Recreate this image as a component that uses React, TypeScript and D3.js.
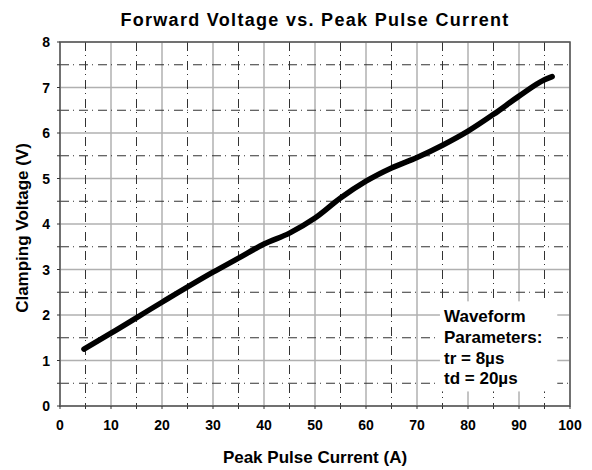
import React, { useEffect, useRef } from "react";
import * as d3 from "d3";

// curve
const current = [4.7, 10, 20, 30, 35, 40, 45, 50, 55, 60, 65, 70, 75, 80, 85, 90, 95, 96.5];
const voltage = [1.25, 1.6, 2.28, 2.94, 3.25, 3.56, 3.8, 4.13, 4.57, 4.94, 5.23, 5.46, 5.73, 6.04, 6.41, 6.81, 7.17, 7.24];

const xTicks = [0, 10, 20, 30, 40, 50, 60, 70, 80, 90, 100];
const yTicks = [0, 1, 2, 3, 4, 5, 6, 7, 8];
const xMinor = [5, 15, 25, 35, 45, 55, 65, 75, 85, 95];
const yMinor = [0.5, 1.5, 2.5, 3.5, 4.5, 5.5, 6.5, 7.5];

const noteLines = ["Waveform", "Parameters:", "tr = 8\u00b5s", "td = 20\u00b5s"];

const width = 592;
const height = 470;
const margin = { top: 42, right: 22, bottom: 64, left: 60 };
const font = "'Liberation Sans', Arial, sans-serif";

export default function App() {
  const svgRef = useRef<SVGSVGElement>(null);

  useEffect(() => {
    const svg = d3.select(svgRef.current);
    svg.selectAll("*").remove();

    const innerW = width - margin.left - margin.right;
    const innerH = height - margin.top - margin.bottom;

    const xScale = d3.scaleLinear().domain([0, 100]).range([0, innerW]);
    const yScale = d3.scaleLinear().domain([0, 8]).range([innerH, 0]);

    const g = svg
      .append("g")
      .attr("transform", `translate(${margin.left},${margin.top})`);

    // major grid (solid grey)
    g.selectAll(".vmajor")
      .data(xTicks)
      .enter()
      .append("line")
      .attr("x1", (d) => xScale(d))
      .attr("x2", (d) => xScale(d))
      .attr("y1", 0)
      .attr("y2", innerH)
      .attr("stroke", "#b0b0b0")
      .attr("stroke-width", 1.5);

    g.selectAll(".hmajor")
      .data(yTicks)
      .enter()
      .append("line")
      .attr("x1", 0)
      .attr("x2", innerW)
      .attr("y1", (d) => yScale(d))
      .attr("y2", (d) => yScale(d))
      .attr("stroke", "#b0b0b0")
      .attr("stroke-width", 1.5);

    // minor grid (dashed dark)
    g.selectAll(".vminor")
      .data(xMinor)
      .enter()
      .append("line")
      .attr("x1", (d) => xScale(d))
      .attr("x2", (d) => xScale(d))
      .attr("y1", 0)
      .attr("y2", innerH)
      .attr("stroke", "#333")
      .attr("stroke-width", 1)
      .attr("stroke-dasharray", "9,4,1,5");

    g.selectAll(".hminor")
      .data(yMinor)
      .enter()
      .append("line")
      .attr("x1", 0)
      .attr("x2", innerW)
      .attr("y1", (d) => yScale(d))
      .attr("y2", (d) => yScale(d))
      .attr("stroke", "#333")
      .attr("stroke-width", 1)
      .attr("stroke-dasharray", "9,4,1,5");

    // white box behind the note
    g.append("rect")
      .attr("x", xScale(74.5))
      .attr("y", yScale(2.3))
      .attr("width", xScale(97.5) - xScale(74.5))
      .attr("height", yScale(0.32) - yScale(2.3))
      .attr("fill", "white");

    // frame
    g.append("rect")
      .attr("width", innerW)
      .attr("height", innerH)
      .attr("fill", "none")
      .attr("stroke", "#555")
      .attr("stroke-width", 1.5);

    // small tick marks outside the frame
    g.selectAll(".xt")
      .data(xTicks.concat(xMinor))
      .enter()
      .append("line")
      .attr("x1", (d) => xScale(d))
      .attr("x2", (d) => xScale(d))
      .attr("y1", innerH)
      .attr("y2", innerH + 3)
      .attr("stroke", "#333");

    g.selectAll(".yt")
      .data(yTicks.concat(yMinor))
      .enter()
      .append("line")
      .attr("x1", -3)
      .attr("x2", 0)
      .attr("y1", (d) => yScale(d))
      .attr("y2", (d) => yScale(d))
      .attr("stroke", "#333");

    // tick labels
    g.selectAll(".xl")
      .data(xTicks)
      .enter()
      .append("text")
      .attr("x", (d) => xScale(d))
      .attr("y", innerH + 24)
      .attr("text-anchor", "middle")
      .attr("font-family", font)
      .attr("font-weight", "bold")
      .attr("font-size", 14)
      .text((d) => d);

    g.selectAll(".yl")
      .data(yTicks)
      .enter()
      .append("text")
      .attr("x", -10)
      .attr("y", (d) => yScale(d) + 5)
      .attr("text-anchor", "end")
      .attr("font-family", font)
      .attr("font-weight", "bold")
      .attr("font-size", 14)
      .text((d) => d);

    // curve
    const pts = current.map((c, i) => [c, voltage[i]] as [number, number]);
    const line = d3
      .line<[number, number]>()
      .x((d) => xScale(d[0]))
      .y((d) => yScale(d[1]))
      .curve(d3.curveMonotoneX);

    g.append("path")
      .datum(pts)
      .attr("fill", "none")
      .attr("stroke", "black")
      .attr("stroke-width", 5.5)
      .attr("stroke-linecap", "round")
      .attr("stroke-linejoin", "round")
      .attr("d", line);

    // note
    g.append("g")
      .selectAll("text")
      .data(noteLines)
      .enter()
      .append("text")
      .attr("x", xScale(75.3))
      .attr("y", (d, i) => 280 + i * 20.8)
      .attr("font-family", font)
      .attr("font-weight", "bold")
      .attr("font-size", 17)
      .text((d) => d);

    // titles
    svg
      .append("text")
      .attr("x", 315)
      .attr("y", 26)
      .attr("text-anchor", "middle")
      .attr("font-family", font)
      .attr("font-weight", "bold")
      .attr("font-size", 18)
      .attr("letter-spacing", 1.3)
      .text("Forward Voltage vs. Peak Pulse Current");

    svg
      .append("text")
      .attr("x", 315)
      .attr("y", 463)
      .attr("text-anchor", "middle")
      .attr("font-family", font)
      .attr("font-weight", "bold")
      .attr("font-size", 17)
      .text("Peak Pulse Current (A)");

    svg
      .append("text")
      .attr("transform", `translate(28,228) rotate(-90)`)
      .attr("text-anchor", "middle")
      .attr("font-family", font)
      .attr("font-weight", "bold")
      .attr("font-size", 17)
      .text("Clamping Voltage (V)");
  }, []);

  return (
    <svg
      ref={svgRef}
      width={width}
      height={height}
      style={{ position: "absolute", left: 0, top: 0, background: "white" }}
    />
  );
}
